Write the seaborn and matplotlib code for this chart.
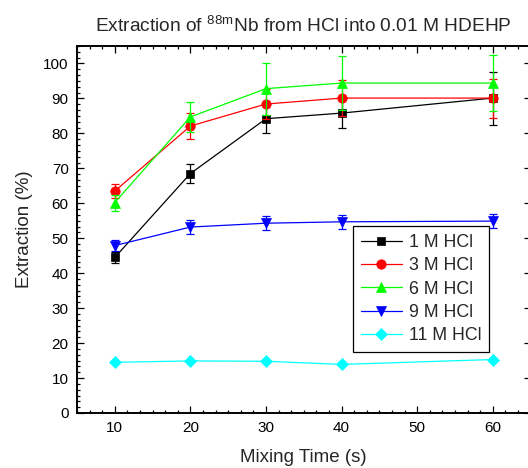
import numpy as np
import pandas as pd
import matplotlib
matplotlib.use('Agg')
import matplotlib.pyplot as plt
from matplotlib.ticker import MultipleLocator, AutoMinorLocator
import seaborn as sns

# mixing times (s)
mixing_time = [10, 20, 30, 40, 60]

# extraction (%) for each HCl concentration
hcl_1m = [44.5, 68.5, 84.2, 85.8, 90.1]
hcl_1m_err = [1.5, 2.8, 4.1, 4.2, 7.6]
hcl_3m = [63.5, 82.1, 88.4, 90.1, 90.1]
hcl_3m_err = [2.0, 3.6, 4.4, 5.2, 5.6]
hcl_6m = [60.2, 84.7, 92.8, 94.4, 94.4]
hcl_6m_err = [2.3, 4.2, 7.4, 7.7, 8.1]
hcl_9m = [47.9, 53.2, 54.3, 54.7, 54.9]
hcl_9m_err = [1.6, 1.9, 2.0, 2.0, 2.0]
hcl_11m = [14.5, 14.9, 14.8, 13.9, 15.3]
hcl_11m_err = [0.3, 0.3, 0.3, 0.3, 0.3]

labels = ['1 M HCl', '3 M HCl', '6 M HCl', '9 M HCl', '11 M HCl']
colors = ['#000000', '#ff0000', '#00ff00', '#0000ff', '#00ffff']
markers = ['s', 'o', '^', 'v', 'D']
msizes = [6.0, 6.8, 7.2, 7.2, 6.0]

values = [hcl_1m, hcl_3m, hcl_6m, hcl_9m, hcl_11m]
errors = [hcl_1m_err, hcl_3m_err, hcl_6m_err, hcl_9m_err, hcl_11m_err]

# long table for seaborn
rows = []
for lab, v, e in zip(labels, values, errors):
    for t, y, dy in zip(mixing_time, v, e):
        rows.append({'time': t, 'extraction': y, 'err': dy, 'series': lab})
df = pd.DataFrame(rows)

sns.set_style('ticks')
plt.rcParams['font.family'] = ['Liberation Sans', 'DejaVu Sans']
plt.rcParams['mathtext.default'] = 'regular'
plt.rcParams['mathtext.fontset'] = 'custom'
plt.rcParams['mathtext.rm'] = 'Liberation Sans'

fig = plt.figure(figsize=(5.28, 4.68), dpi=100)
ax = fig.add_axes([77 / 528, 55 / 468, 453.5 / 528, 367 / 468])

z = 2
for lab, c, m, ms in zip(labels, colors, markers, msizes):
    sub = df[df['series'] == lab]
    ax.errorbar(sub['time'], sub['extraction'], yerr=sub['err'], fmt='none',
                ecolor=c, elinewidth=0.9, capsize=3.0, capthick=0.9, zorder=z)
    sns.lineplot(data=sub, x='time', y='extraction', color=c, marker=m,
                 markersize=ms, markeredgecolor=c, markeredgewidth=0.5,
                 linewidth=0.9, label=lab, ax=ax, zorder=z + 0.5)
    z += 1

ax.set_xlim(5, 65)
ax.set_ylim(0, 105)
ax.xaxis.set_major_locator(MultipleLocator(10))
ax.xaxis.set_minor_locator(AutoMinorLocator(6))
ax.yaxis.set_major_locator(MultipleLocator(10))
ax.yaxis.set_minor_locator(AutoMinorLocator(6))
ax.set_xticks([10, 20, 30, 40, 50, 60])

ax.tick_params(which='both', direction='in', top=True, right=True,
               width=0.9, colors='black')
ax.tick_params(which='major', length=5, pad=6, labelsize=11)
ax.tick_params(which='minor', length=2.5)
for sp in ax.spines.values():
    sp.set_linewidth(1.4)
    sp.set_color('black')

ax.set_xlabel('Mixing Time (s)', fontsize=13.5, labelpad=10)
ax.set_ylabel('Extraction (%)', fontsize=13.5, labelpad=7)
ax.set_title(r'Extraction of $^{88m}$Nb from HCl into 0.01 M HDEHP',
             fontsize=13.8, pad=10)

leg = ax.legend(loc='upper left', bbox_to_anchor=(0.608, 0.51),
                borderaxespad=0, fontsize=12.8, frameon=True, fancybox=False,
                handlelength=2.3, handletextpad=0.4, labelspacing=0.36,
                borderpad=0.45)
leg.get_frame().set_edgecolor('black')
leg.get_frame().set_linewidth(0.9)
leg.get_frame().set_alpha(1)

fig.savefig('out.png', dpi=100)
